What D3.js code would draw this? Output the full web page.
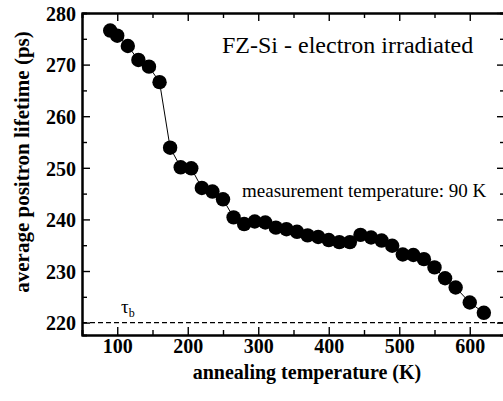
<!DOCTYPE html>
<html>
<head>
<meta charset="utf-8">
<script src="https://cdn.jsdelivr.net/npm/d3@7"></script>
<style>
  body { margin: 0; background: #fff; }
  svg { display: block; }
  text { font-family: "Liberation Serif", "Times New Roman", serif; fill: #000; }
</style>
</head>
<body>
<svg id="chart" width="503" height="401"></svg>
<script>
// Data
const annealTemps = [90, 100, 115, 130, 145, 160, 175, 190, 205, 220, 235, 250,
                     265, 280, 295, 310, 325, 340, 355, 370, 385, 400, 415, 430,
                     445, 460, 475, 490, 505, 520, 535, 550, 565, 580, 600, 620];
const avgLifetimes = [276.6, 275.6, 273.6, 270.9, 269.6, 266.6, 253.9, 250.1, 249.9, 246.1, 245.4, 243.9,
                      240.4, 239.1, 239.6, 239.4, 238.4, 238.1, 237.6, 236.9, 236.6, 236.0, 235.6, 235.6,
                      237.0, 236.5, 235.9, 234.9, 233.2, 233.1, 232.3, 230.7, 228.6, 226.8, 223.9, 221.9];
const bulkLifetime = 220;
const xTicks = [100, 200, 300, 400, 500, 600];
const yTicks = [220, 230, 240, 250, 260, 270, 280];
const xMinor = [150, 250, 350, 450, 550, 650];
const yMinor = [225, 235, 245, 255, 265, 275];

// Layout
const plotLeft = 82, plotRight = 505, plotTop = 13, plotBottom = 335;

const svg = d3.select("#chart");

const x = d3.scaleLinear().domain([50, 650]).range([plotLeft, plotRight]);
const y = d3.scaleLinear().domain([217.6, 280]).range([plotBottom, plotTop]);

const points = annealTemps.map(function (t, i) { return { t: t, v: avgLifetimes[i] }; });

// Frame: bottom/left axes with labels, top/right axes without
const axisBottom = svg.append("g").attr("class", "frame")
    .attr("transform", "translate(0," + plotBottom + ")")
    .call(d3.axisTop(x).tickValues(xTicks).tickSizeInner(8).tickSizeOuter(0).tickFormat(d3.format("d")));
const axisLeft = svg.append("g").attr("class", "frame")
    .attr("transform", "translate(" + plotLeft + ",0)")
    .call(d3.axisRight(y).tickValues(yTicks).tickSizeInner(8).tickSizeOuter(0).tickFormat(d3.format("d")));
svg.append("g").attr("class", "frame")
    .attr("transform", "translate(0," + plotTop + ")")
    .call(d3.axisBottom(x).tickValues(xTicks).tickSizeInner(8).tickSizeOuter(0).tickFormat(""));
svg.append("g").attr("class", "frame")
    .attr("transform", "translate(" + plotRight + ",0)")
    .call(d3.axisLeft(y).tickValues(yTicks).tickSizeInner(8).tickSizeOuter(0).tickFormat(""));

// Minor ticks
svg.append("g").attr("transform", "translate(0," + plotBottom + ")")
    .call(d3.axisTop(x).tickValues(xMinor).tickSize(5).tickFormat(""));
svg.append("g").attr("transform", "translate(0," + plotTop + ")")
    .call(d3.axisBottom(x).tickValues(xMinor).tickSize(5).tickFormat(""));
svg.append("g").attr("transform", "translate(" + plotLeft + ",0)")
    .call(d3.axisRight(y).tickValues(yMinor).tickSize(5).tickFormat(""));
svg.append("g").attr("transform", "translate(" + plotRight + ",0)")
    .call(d3.axisLeft(y).tickValues(yMinor).tickSize(5).tickFormat(""));

svg.selectAll(".domain").attr("stroke", "#000").attr("stroke-width", 2);
svg.selectAll(".tick line").attr("stroke", "#000").attr("stroke-width", 1.4);

axisBottom.selectAll(".tick text")
    .attr("y", 18).attr("dy", "0")
    .style("font-size", "20px").style("font-weight", "bold");
axisLeft.selectAll(".tick text")
    .attr("x", -6).attr("dy", "0.36em").attr("text-anchor", "end")
    .style("font-size", "20px").style("font-weight", "bold");

// Bulk lifetime reference line
svg.append("line")
    .attr("x1", plotLeft).attr("x2", plotRight)
    .attr("y1", y(bulkLifetime)).attr("y2", y(bulkLifetime))
    .attr("stroke", "#000").attr("stroke-width", 1.2)
    .attr("stroke-dasharray", "5,3");

const tau = svg.append("text")
    .attr("x", 121).attr("y", 313)
    .style("font-size", "19px");
tau.append("tspan").text("τ");
tau.append("tspan").attr("dy", 4).style("font-size", "12px").text("b");

// Data line + markers
svg.append("path")
    .datum(points)
    .attr("fill", "none").attr("stroke", "#000").attr("stroke-width", 1)
    .attr("d", d3.line().x(d => x(d.t)).y(d => y(d.v)));

svg.append("g").selectAll("circle")
    .data(points)
    .enter().append("circle")
    .attr("cx", d => x(d.t))
    .attr("cy", d => y(d.v))
    .attr("r", 7.2)
    .attr("fill", "#000");

// Annotations
svg.append("text")
    .attr("x", 222).attr("y", 53)
    .style("font-size", "24px")
    .text("FZ-Si - electron irradiated");

svg.append("text")
    .attr("x", 242).attr("y", 197)
    .style("font-size", "19px")
    .text("measurement temperature: 90 K");

// Axis titles
svg.append("text")
    .attr("x", 307).attr("y", 379)
    .attr("text-anchor", "middle")
    .style("font-size", "20px").style("font-weight", "bold")
    .text("annealing temperature (K)");

svg.append("text")
    .attr("transform", "translate(29,162) rotate(-90)")
    .attr("text-anchor", "middle")
    .style("font-size", "21px").style("font-weight", "bold")
    .text("average positron lifetime (ps)");
</script>
</body>
</html>
